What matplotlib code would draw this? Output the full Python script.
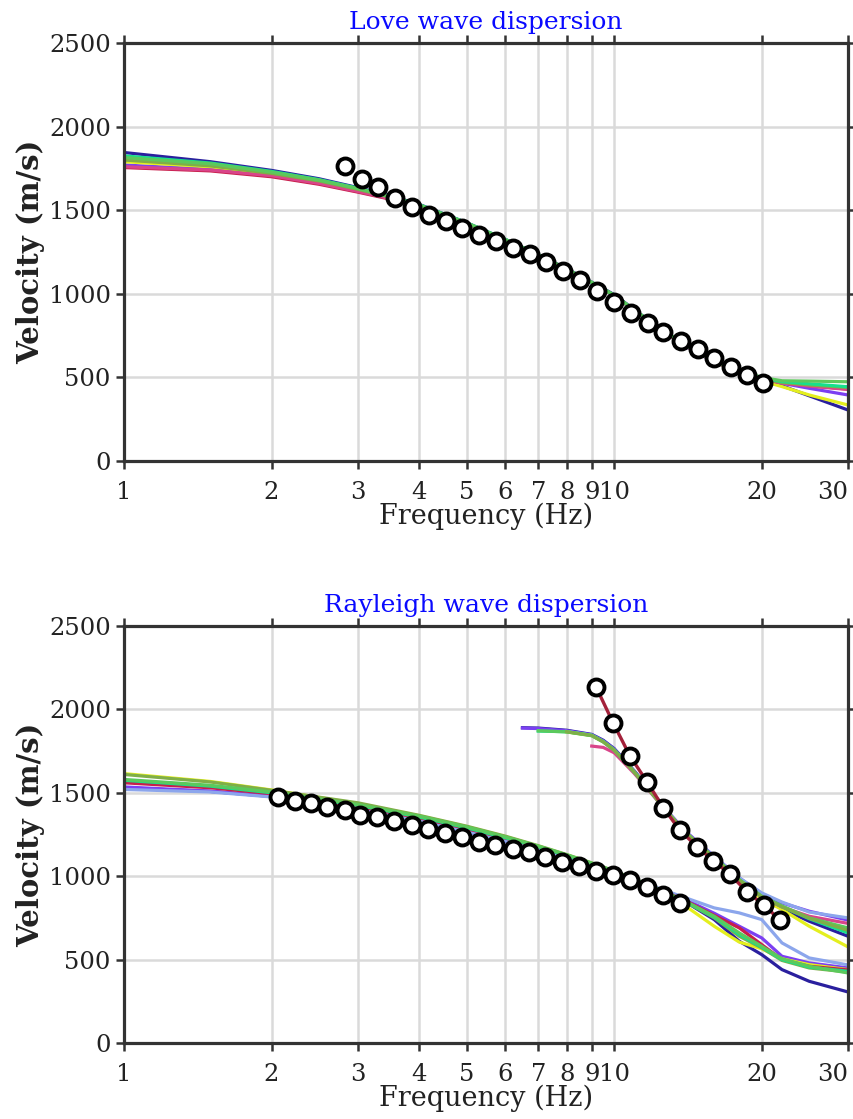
import numpy as np
import matplotlib
matplotlib.use('Agg')
import matplotlib.pyplot as plt
from matplotlib.ticker import FixedLocator, FixedFormatter, NullLocator

plt.rcParams['font.family'] = ['DejaVu Serif']

# observed dispersion picks
love_f = [2.82, 3.06, 3.30, 3.57, 3.87, 4.19, 4.53, 4.89, 5.30, 5.74, 6.21, 6.73, 7.25,
          7.86, 8.51, 9.22, 10.0, 10.8, 11.7, 12.6, 13.7, 14.8, 16.0, 17.3, 18.7, 20.1]
love_v = [1764, 1687, 1639, 1573, 1519, 1471, 1435, 1393, 1352, 1316, 1274, 1238, 1190,
          1136, 1083, 1017, 951, 885, 825, 770, 716, 668, 616, 562, 512, 466]

ray0_f = [2.06, 2.23, 2.41, 2.60, 2.82, 3.03, 3.28, 3.56, 3.86, 4.18, 4.52, 4.89, 5.30,
          5.71, 6.21, 6.70, 7.23, 7.81, 8.48, 9.18, 9.96, 10.77, 11.66, 12.6, 13.6]
ray0_v = [1473, 1453, 1437, 1417, 1397, 1367, 1353, 1333, 1307, 1281, 1261, 1233, 1207,
          1187, 1161, 1143, 1117, 1087, 1061, 1031, 1007, 977, 933, 887, 837]

ray1_f = [9.18, 9.96, 10.77, 11.66, 12.6, 13.6, 14.76, 15.94, 17.2, 18.66, 20.2, 21.8]
ray1_v = [2136, 1917, 1721, 1567, 1411, 1277, 1177, 1093, 1013, 907, 827, 737]

# model curves
love_nodes = [1, 1.5, 2, 2.5, 3, 3.5, 4, 5, 6, 7, 8, 9, 10, 12, 14, 16, 18, 20, 22, 25, 30]
love_models = {
    '#2a1f9e': [1845, 1790, 1738, 1688, 1635, 1585, 1535, 1425, 1325, 1235, 1150, 1070, 995, 822, 690, 595, 532, 485, 450, 390, 305],
    '#7b3ff2': [1770, 1745, 1705, 1662, 1615, 1570, 1525, 1418, 1318, 1228, 1142, 1062, 988, 815, 685, 592, 532, 490, 465, 435, 395],
    '#e4ef1e': [1790, 1760, 1720, 1673, 1622, 1575, 1528, 1421, 1321, 1231, 1145, 1066, 990, 818, 689, 594, 530, 480, 445, 395, 335],
    '#c81e4a': [1755, 1735, 1700, 1655, 1608, 1565, 1522, 1418, 1320, 1232, 1147, 1067, 990, 818, 688, 595, 536, 492, 468, 450, 430],
    '#d9458a': [1760, 1740, 1706, 1660, 1612, 1568, 1526, 1420, 1322, 1233, 1148, 1066, 990, 818, 688, 595, 536, 490, 466, 448, 428],
    '#7fae48': [1800, 1765, 1720, 1675, 1625, 1577, 1530, 1422, 1322, 1232, 1146, 1066, 990, 820, 690, 597, 538, 493, 470, 455, 440],
    '#16e08c': [1825, 1782, 1732, 1683, 1632, 1582, 1533, 1425, 1325, 1234, 1148, 1068, 992, 821, 692, 600, 541, 498, 475, 462, 444],
    '#5cc95c': [1815, 1778, 1728, 1680, 1630, 1580, 1532, 1424, 1324, 1234, 1148, 1068, 992, 822, 693, 601, 543, 500, 480, 478, 474],
}

ray0_nodes = [1, 1.5, 2, 3, 4, 5, 6, 7, 8, 9, 10, 12, 14, 16, 18, 20, 22, 25, 30]
ray0_models = {
    '#2a1f9e': [1530, 1508, 1478, 1395, 1330, 1265, 1210, 1160, 1110, 1065, 1020, 930, 845, 740, 610, 530, 440, 370, 306],
    '#7b3ff2': [1535, 1510, 1480, 1398, 1333, 1268, 1212, 1162, 1112, 1067, 1023, 935, 858, 778, 700, 630, 520, 480, 450],
    '#8ca6ec': [1520, 1505, 1475, 1397, 1332, 1267, 1211, 1161, 1111, 1066, 1022, 940, 870, 810, 780, 740, 600, 510, 468],
    '#e4ef1e': [1615, 1568, 1517, 1435, 1362, 1297, 1237, 1180, 1127, 1077, 1028, 925, 820, 700, 605, 565, 505, 470, 440],
    '#c81e4a': [1560, 1530, 1495, 1418, 1350, 1285, 1228, 1175, 1124, 1075, 1028, 936, 852, 765, 690, 590, 500, 460, 438],
    '#7fae48': [1610, 1565, 1515, 1440, 1365, 1300, 1240, 1183, 1130, 1080, 1032, 938, 845, 750, 640, 570, 495, 450, 425],
    '#16e08c': [1575, 1540, 1500, 1425, 1355, 1290, 1230, 1176, 1124, 1075, 1028, 934, 846, 755, 650, 575, 500, 455, 430],
    '#5cc95c': [1580, 1545, 1505, 1430, 1360, 1295, 1235, 1180, 1128, 1078, 1030, 936, 848, 760, 660, 580, 505, 460, 420],
}

ray1_nodes = [6.5, 7, 8, 9, 9.5, 10, 11, 12, 13, 14, 15, 16, 18, 20, 22, 25, 30]
nan = np.nan
ray1_models = {
    '#2a1f9e': [1890, 1888, 1875, 1850, 1815, 1765, 1630, 1495, 1370, 1265, 1185, 1112, 975, 870, 805, 730, 640],
    '#7b3ff2': [1888, 1885, 1872, 1848, 1812, 1762, 1628, 1495, 1372, 1268, 1190, 1120, 990, 895, 840, 790, 737],
    '#8ca6ec': [nan, nan, 1868, 1845, 1805, 1752, 1620, 1488, 1365, 1262, 1185, 1118, 990, 900, 845, 785, 750],
    '#e4ef1e': [nan, nan, 1865, 1843, 1806, 1756, 1624, 1490, 1366, 1260, 1178, 1105, 968, 865, 800, 700, 576],
    '#d9458a': [nan, nan, nan, 1780, 1772, 1740, 1615, 1485, 1362, 1258, 1180, 1110, 975, 875, 815, 760, 717],
    '#16e08c': [nan, 1870, 1866, 1845, 1808, 1758, 1625, 1490, 1365, 1260, 1182, 1112, 978, 878, 818, 745, 660],
    '#5cc95c': [nan, 1872, 1865, 1842, 1805, 1755, 1622, 1490, 1366, 1262, 1183, 1113, 980, 880, 822, 750, 690],
    '#7fae48': [nan, nan, 1866, 1844, 1806, 1756, 1623, 1490, 1365, 1261, 1181, 1110, 976, 876, 816, 748, 675],
}

xticks = [1, 2, 3, 4, 5, 6, 7, 8, 9, 10, 20, 30]
xlabels = ['1', '2', '3', '4', '5', '6', '7', '8', '9', '10', '20', '30']
yticks = [0, 500, 1000, 1500, 2000, 2500]

fig = plt.figure(figsize=(8.54, 11.19), dpi=100)
ax1 = fig.add_axes([0.1452, 0.588, 0.8478, 0.3736])
ax2 = fig.add_axes([0.1452, 0.0679, 0.8478, 0.3727])


def style_axes(ax):
    ax.set_xscale('log')
    ax.set_xlim(1, 30)
    ax.set_ylim(0, 2500)
    ax.xaxis.set_major_locator(FixedLocator(xticks))
    ax.xaxis.set_major_formatter(FixedFormatter(xlabels))
    ax.xaxis.set_minor_locator(NullLocator())
    ax.set_yticks(yticks)
    ax.grid(True, color='#dadada', linewidth=1.8, zorder=0)
    ax.set_axisbelow(True)
    for s in ax.spines.values():
        s.set_linewidth(2.3)
        s.set_color('#333333')
    ax.tick_params(axis='both', which='both', direction='out', length=5.5, width=1.8,
                   color='#333333', top=True, right=True, labelsize=17.5,
                   labelcolor='#222222')
    ax.tick_params(axis='x', pad=9)
    ax.tick_params(axis='y', pad=4)
    # last frequency label sits flush with the right edge
    ax.get_xticklabels()[-1].set_horizontalalignment('right')
    ax.set_xlabel('Frequency (Hz)', fontsize=19.5, labelpad=-1, color='#222222')
    ax.set_ylabel('Velocity (m/s)', fontsize=21, fontweight='bold', labelpad=3, color='#222222')


def draw_models(ax, nodes, models):
    for c, v in models.items():
        ax.plot(nodes, v, color=c, linewidth=2.3, zorder=2)


def draw_picks(ax, f, v):
    ax.plot(f, v, linestyle='none', marker='o', markersize=11.5, markerfacecolor='white',
            markeredgecolor='black', markeredgewidth=2.8, zorder=5)


style_axes(ax1)
draw_models(ax1, love_nodes, love_models)
draw_picks(ax1, love_f, love_v)

style_axes(ax2)
draw_models(ax2, ray0_nodes, ray0_models)
draw_models(ax2, ray1_nodes, ray1_models)
ax2.plot(ray1_f, ray1_v, color='#a3213a', linewidth=2.4, zorder=4)
draw_picks(ax2, ray0_f, ray0_v)
draw_picks(ax2, ray1_f, ray1_v)

fig.text(0.5690, 0.974, 'Love wave dispersion', ha='center', va='baseline',
         color='#0a0aff', fontsize=18)
fig.text(0.5690, 0.453, 'Rayleigh wave dispersion', ha='center', va='baseline',
         color='#0a0aff', fontsize=18)

fig.savefig('out.png', dpi=100)
